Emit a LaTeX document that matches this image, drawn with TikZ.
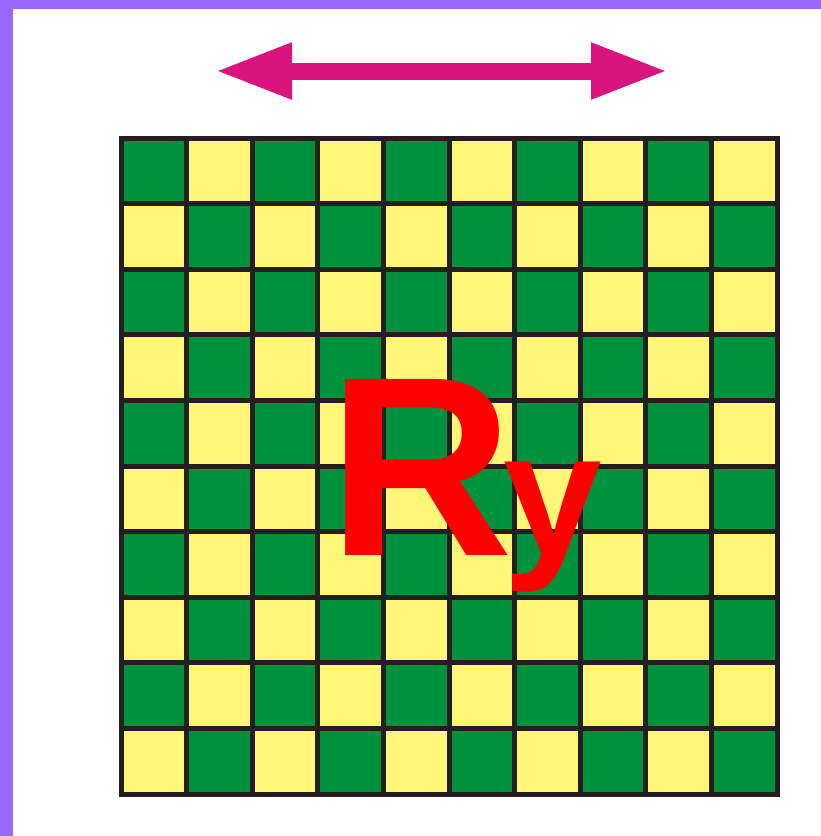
\documentclass[tikz,border=0pt]{standalone}
\usepackage{fontspec}
\usetikzlibrary{arrows.meta,positioning}
\newfontfamily\ryfont{Liberation Sans}
\definecolor{frame}{HTML}{9966FF}
\definecolor{cellgreen}{HTML}{00913C}
\definecolor{cellyellow}{HTML}{FFF577}
\definecolor{gridline}{HTML}{231F20}
\definecolor{swing}{HTML}{DA147F}
\definecolor{rotred}{HTML}{FF0000}

\begin{document}
\begin{tikzpicture}[
  x=1pt, y=-1pt,
  cell/.style={fill=#1},
  lines/.style={draw=gridline, line width=5pt, line cap=rect},
  bigtext/.style={inner sep=0pt, text=rotred, font=\ryfont\bfseries\fontsize{#1}{#1}\selectfont},
  >=Latex
]
\useasboundingbox[fill=white] (0,0) rectangle (821,836);
% frame bars
\fill[frame] (0,0) rectangle (821,9);
\fill[frame] (0,0) rectangle (13,836);

% checkerboard
\def\cs{65.6}
\foreach \i in {0,...,9} {
  \foreach \j in {0,...,9} {
    \pgfmathparse{int(mod(\i+\j,2))}
    \ifnum\pgfmathresult=0
      \fill[cell=cellgreen] (121+\i*\cs,138+\j*\cs) rectangle ++(\cs,\cs);
    \else
      \fill[cell=cellyellow] (121+\i*\cs,138+\j*\cs) rectangle ++(\cs,\cs);
    \fi
  }
}
\foreach \k in {0,...,10} {
  \draw[lines] (121+\k*\cs,138) -- (121+\k*\cs,794);
  \draw[lines] (121,138+\k*\cs) -- (777,138+\k*\cs);
}

% double arrow
\coordinate (swingl) at (215,71);
\coordinate (swingr) at (668,71);
\draw[swing, line width=17pt, {Triangle[length=77pt,width=52pt]}-{Triangle[length=77pt,width=52pt]}] (swingl) -- (swingr);

% label
\node[bigtext=256, anchor=base] (rr) at (421,555) {R};
\node[bigtext=177, anchor=base west, xshift=-10pt] (ry) at (rr.base east) {y};
\end{tikzpicture}
\end{document}
